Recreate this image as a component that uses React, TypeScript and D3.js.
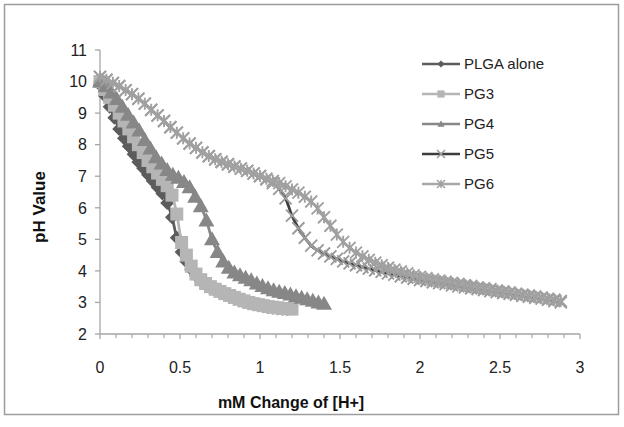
import React from "react";
import * as d3 from "d3";

// ---------- data ----------
const seriesNames = ["PLGA alone", "PG3", "PG4", "PG5", "PG6"];

const plgaAlone: [number, number][] = [
  [0, 9.9], [0.03, 9.55], [0.06, 9.2], [0.09, 8.85], [0.12, 8.5], [0.15, 8.2],
  [0.18, 7.95], [0.21, 7.7], [0.24, 7.45], [0.27, 7.25], [0.3, 7.05], [0.33, 6.85],
  [0.36, 6.65], [0.39, 6.45], [0.42, 6.15], [0.45, 5.7], [0.48, 5.05], [0.51, 4.6],
  [0.54, 4.3], [0.57, 4.05], [0.6, 3.85], [0.63, 3.68], [0.66, 3.56], [0.69, 3.46],
  [0.72, 3.38], [0.75, 3.31], [0.78, 3.24], [0.81, 3.18], [0.84, 3.12], [0.87, 3.07],
  [0.9, 3.02], [0.93, 2.98], [0.96, 2.94], [0.99, 2.91], [1.02, 2.88], [1.05, 2.85],
  [1.08, 2.83], [1.11, 2.81], [1.14, 2.8], [1.17, 2.79],
];

const pg3: [number, number][] = [
  [0, 10.0], [0.03, 9.75], [0.06, 9.5], [0.09, 9.25], [0.12, 9.0], [0.15, 8.75],
  [0.18, 8.5], [0.21, 8.25], [0.24, 8.0], [0.27, 7.75], [0.3, 7.5], [0.33, 7.3],
  [0.36, 7.1], [0.39, 6.9], [0.42, 6.7], [0.45, 6.4], [0.48, 5.8], [0.51, 4.9],
  [0.54, 4.5], [0.57, 4.15], [0.6, 3.9], [0.63, 3.72], [0.66, 3.6], [0.69, 3.5],
  [0.72, 3.42], [0.75, 3.35], [0.78, 3.28], [0.81, 3.22], [0.84, 3.16], [0.87, 3.1],
  [0.9, 3.05], [0.93, 3.0], [0.96, 2.96], [0.99, 2.93], [1.02, 2.9], [1.05, 2.87],
  [1.08, 2.85], [1.11, 2.83], [1.14, 2.81], [1.17, 2.8], [1.2, 2.79],
];

const pg4: [number, number][] = [
  [0, 10.0], [0.035, 9.85], [0.07, 9.65], [0.105, 9.45], [0.14, 9.2], [0.175, 8.95],
  [0.21, 8.7], [0.245, 8.45], [0.28, 8.15], [0.315, 7.88], [0.35, 7.6], [0.385, 7.4],
  [0.42, 7.2], [0.455, 7.05], [0.49, 6.95], [0.525, 6.82], [0.56, 6.65], [0.595, 6.35],
  [0.63, 6.05], [0.665, 5.6], [0.7, 5.0], [0.735, 4.6], [0.77, 4.3], [0.805, 4.1],
  [0.84, 3.95], [0.875, 3.86], [0.91, 3.78], [0.945, 3.7], [0.98, 3.6], [1.015, 3.52],
  [1.05, 3.45], [1.085, 3.39], [1.12, 3.34], [1.155, 3.3], [1.19, 3.25], [1.225, 3.2],
  [1.26, 3.15], [1.295, 3.1], [1.33, 3.05], [1.365, 3.0], [1.4, 2.96],
];

const pg5: [number, number][] = [
  [0, 10.15], [0.04, 10.05], [0.08, 9.95], [0.12, 9.85], [0.16, 9.72], [0.2, 9.6],
  [0.24, 9.45], [0.28, 9.3], [0.32, 9.1], [0.36, 8.92], [0.4, 8.75], [0.44, 8.55],
  [0.48, 8.38], [0.52, 8.2], [0.56, 8.03], [0.6, 7.9], [0.64, 7.75], [0.68, 7.63],
  [0.72, 7.53], [0.76, 7.45], [0.8, 7.38], [0.84, 7.3], [0.88, 7.24], [0.92, 7.17],
  [0.96, 7.08], [1.0, 7.0], [1.04, 6.9], [1.08, 6.78], [1.12, 6.6], [1.16, 6.3],
  [1.2, 5.75], [1.24, 5.35], [1.28, 5.05], [1.32, 4.8], [1.36, 4.65], [1.4, 4.55],
  [1.44, 4.46], [1.48, 4.38], [1.52, 4.3], [1.56, 4.24], [1.6, 4.18], [1.64, 4.12],
  [1.68, 4.07], [1.72, 4.02], [1.76, 3.97], [1.8, 3.92], [1.84, 3.88], [1.88, 3.83],
  [1.92, 3.79], [1.96, 3.75], [2.0, 3.71], [2.04, 3.68], [2.08, 3.64], [2.12, 3.61],
  [2.16, 3.58], [2.2, 3.54], [2.24, 3.51], [2.28, 3.48], [2.32, 3.45], [2.36, 3.42],
  [2.4, 3.39], [2.44, 3.36], [2.48, 3.33], [2.52, 3.3], [2.56, 3.27], [2.6, 3.24],
  [2.64, 3.21], [2.68, 3.18], [2.72, 3.15], [2.76, 3.12], [2.8, 3.08], [2.84, 3.04],
  [2.88, 3.0],
];

const pg6: [number, number][] = [
  [0, 10.15], [0.04, 10.06], [0.08, 9.96], [0.12, 9.86], [0.16, 9.73], [0.2, 9.6],
  [0.24, 9.46], [0.28, 9.3], [0.32, 9.11], [0.36, 8.93], [0.4, 8.75], [0.44, 8.56],
  [0.48, 8.38], [0.52, 8.2], [0.56, 8.04], [0.6, 7.9], [0.64, 7.76], [0.68, 7.64],
  [0.72, 7.54], [0.76, 7.46], [0.8, 7.38], [0.84, 7.31], [0.88, 7.24], [0.92, 7.17],
  [0.96, 7.09], [1.0, 7.01], [1.04, 6.92], [1.08, 6.85], [1.12, 6.78], [1.16, 6.68],
  [1.2, 6.58], [1.24, 6.48], [1.28, 6.35], [1.32, 6.2], [1.36, 5.98], [1.4, 5.7],
  [1.44, 5.43], [1.48, 5.15], [1.52, 4.92], [1.56, 4.73], [1.6, 4.58], [1.64, 4.46],
  [1.68, 4.35], [1.72, 4.26], [1.76, 4.18], [1.8, 4.1], [1.84, 4.04], [1.88, 3.98],
  [1.92, 3.92], [1.96, 3.86], [2.0, 3.81], [2.04, 3.77], [2.08, 3.73], [2.12, 3.69],
  [2.16, 3.66], [2.2, 3.62], [2.24, 3.59], [2.28, 3.55], [2.32, 3.52], [2.36, 3.48],
  [2.4, 3.45], [2.44, 3.42], [2.48, 3.38], [2.52, 3.35], [2.56, 3.32], [2.6, 3.28],
  [2.64, 3.25], [2.68, 3.22], [2.72, 3.19], [2.76, 3.16], [2.8, 3.12], [2.84, 3.09],
  [2.88, 3.05],
];

const xTickLabels = ["0", "0.5", "1", "1.5", "2", "2.5", "3"];
const xTickValues = [0, 0.5, 1, 1.5, 2, 2.5, 3];
const xMinorTicks = [0.1, 0.2, 0.3, 0.4, 0.6, 0.7, 0.8, 0.9, 1.1, 1.2, 1.3, 1.4, 1.6, 1.7, 1.8, 1.9, 2.1, 2.2, 2.3, 2.4, 2.6, 2.7, 2.8, 2.9];
const yTickValues = [2, 3, 4, 5, 6, 7, 8, 9, 10, 11];

const xTitle = "mM Change of [H+]";
const yTitle = "pH Value";

// ---------- styling ----------
const W = 624;
const H = 427;
const FONT = "'Liberation Sans', Arial, sans-serif";
const AXIS = "#a6a6a6";

type Kind = "diamond" | "square" | "triangle" | "x" | "star";
const styles: { data: [number, number][]; line: string; marker: string; kind: Kind; size: number }[] = [
  { data: plgaAlone, line: "#5c5c5c", marker: "#5c5c5c", kind: "diamond", size: 7 },
  { data: pg3, line: "#b5b5b5", marker: "#b5b5b5", kind: "square", size: 6.5 },
  { data: pg4, line: "#878787", marker: "#878787", kind: "triangle", size: 8 },
  { data: pg5, line: "#3d3d3d", marker: "#9a9a9a", kind: "x", size: 6 },
  { data: pg6, line: "#a8a8a8", marker: "#a0a0a0", kind: "star", size: 6 },
];

function Marker({ kind, x, y, s, color, sw = 1.9 }: { kind: Kind; x: number; y: number; s: number; color: string; sw?: number }) {
  switch (kind) {
    case "diamond":
      return <path d={`M${x},${y - s}L${x + s},${y}L${x},${y + s}L${x - s},${y}Z`} fill={color} />;
    case "square":
      return <rect x={x - s} y={y - s} width={2 * s} height={2 * s} fill={color} />;
    case "triangle":
      return <path d={`M${x},${y - s}L${x + s},${y + s * 0.75}L${x - s},${y + s * 0.75}Z`} fill={color} />;
    case "x":
      return (
        <path d={`M${x - s},${y - s}L${x + s},${y + s}M${x - s},${y + s}L${x + s},${y - s}`} stroke={color} strokeWidth={sw} fill="none" />
      );
    case "star":
      return (
        <path
          d={`M${x - s},${y - s}L${x + s},${y + s}M${x - s},${y + s}L${x + s},${y - s}M${x},${y - s}L${x},${y + s}`}
          stroke={color}
          strokeWidth={sw}
          fill="none"
        />
      );
  }
}

export default function App() {
  const x = d3.scaleLinear().domain([0, 3]).range([100, 580]);
  const y = d3.scaleLinear().domain([2, 11]).range([334, 50]);
  const line = d3
    .line<[number, number]>()
    .x((d) => x(d[0]))
    .y((d) => y(d[1]))
    .curve(d3.curveMonotoneX);

  const legendX = 422;
  const legendY0 = 64;
  const legendDY = 30;

  return (
    <div style={{ position: "fixed", left: 0, top: 0 }}>
      <svg width={W} height={H} style={{ display: "block", background: "#fff" }}>
        <rect x={0} y={0} width={W} height={H} fill="#fff" />
        <rect x={4.5} y={4.5} width={614} height={410} fill="none" stroke="#9c9c9c" strokeWidth={1.5} />

        {/* axes */}
        <line x1={x(0)} x2={x(0)} y1={y(11)} y2={y(2)} stroke={AXIS} strokeWidth={1.3} />
        <line x1={x(0)} x2={x(3)} y1={y(2)} y2={y(2)} stroke={AXIS} strokeWidth={1.3} />
        {yTickValues.map((v) => (
          <g key={"y" + v}>
            <line x1={x(0) - 5} x2={x(0)} y1={y(v)} y2={y(v)} stroke={AXIS} strokeWidth={1.3} />
            <text x={87} y={y(v)} dy="0.36em" textAnchor="end" fontFamily={FONT} fontSize={16} fill="#222">
              {String(v)}
            </text>
          </g>
        ))}
        {xMinorTicks.map((v) => (
          <line key={"m" + v} x1={x(v)} x2={x(v)} y1={y(2)} y2={y(2) + 4} stroke={AXIS} strokeWidth={1.2} />
        ))}
        {xTickValues.map((v, i) => (
          <g key={"x" + v}>
            <line x1={x(v)} x2={x(v)} y1={y(2)} y2={y(2) + 5} stroke={AXIS} strokeWidth={1.3} />
            <text x={x(v)} y={373} textAnchor="middle" fontFamily={FONT} fontSize={16} fill="#222">
              {xTickLabels[i]}
            </text>
          </g>
        ))}

        {/* titles */}
        <text x={291} y={408} textAnchor="middle" fontFamily={FONT} fontSize={16} fontWeight="bold" fill="#111">
          {xTitle}
        </text>
        <text
          transform={`translate(45,207) rotate(-90)`}
          textAnchor="middle"
          fontFamily={FONT}
          fontSize={17}
          fontWeight="bold"
          fill="#111"
        >
          {yTitle}
        </text>

        {/* series */}
        {styles.map((s, i) => (
          <g key={"s" + i}>
            <path d={line(s.data) || ""} fill="none" stroke={s.line} strokeWidth={2.8} />
            {s.data.map((d, j) => (
              <Marker key={j} kind={s.kind} x={x(d[0])} y={y(d[1])} s={s.size} color={s.marker} />
            ))}
          </g>
        ))}

        {/* legend */}
        {styles.map((s, i) => {
          const ly = legendY0 + i * legendDY;
          return (
            <g key={"l" + i}>
              <line x1={legendX} x2={legendX + 38} y1={ly} y2={ly} stroke={s.line} strokeWidth={2.6} />
              <Marker kind={s.kind} x={legendX + 19} y={ly} s={s.kind === "x" || s.kind === "star" ? 4 : 3.6} color={s.marker} sw={1.5} />
              <text x={legendX + 42} y={ly} dy="0.36em" fontFamily={FONT} fontSize={15} fill="#222">
                {seriesNames[i]}
              </text>
            </g>
          );
        })}
      </svg>
    </div>
  );
}
